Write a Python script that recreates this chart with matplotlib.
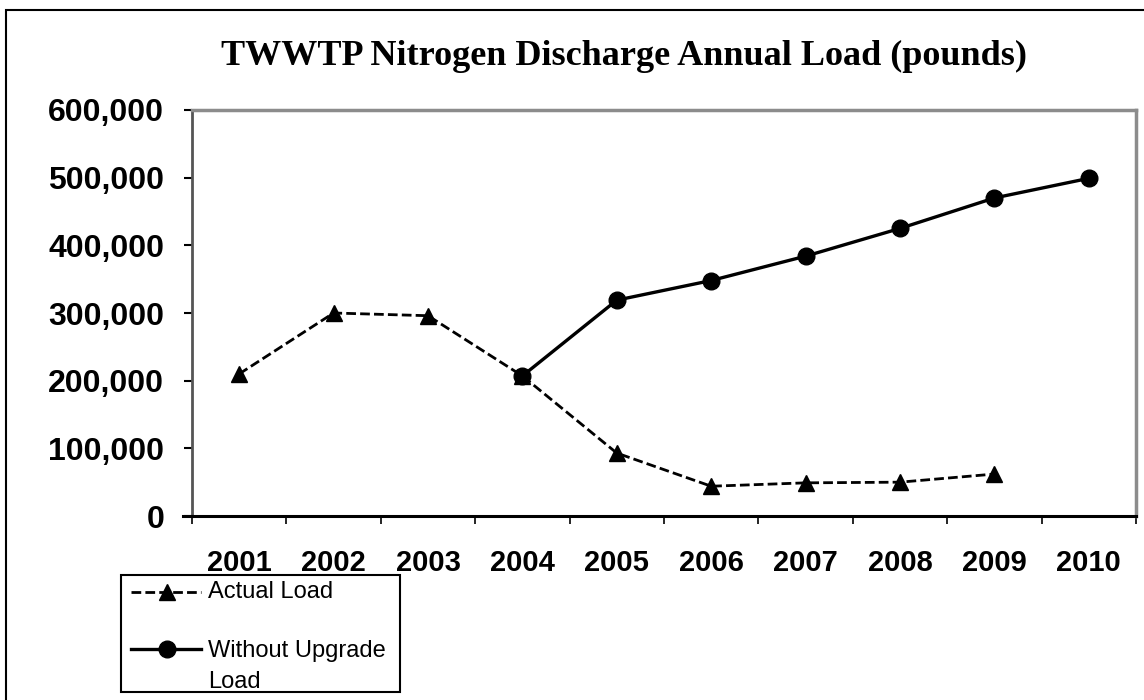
import matplotlib
matplotlib.use("Agg")
import matplotlib.pyplot as plt
import numpy as np
from matplotlib.lines import Line2D
from matplotlib.patches import Rectangle
from matplotlib.ticker import FuncFormatter

# donnees
years = ["2001", "2002", "2003", "2004", "2005", "2006", "2007", "2008", "2009", "2010"]
actual_load = [210000, 300000, 296000, 207000, 93000, 44000, 49000, 50000, 62000, np.nan]
without_upgrade = [np.nan, np.nan, np.nan, 207000, 319000, 348000, 384000, 425000, 470000, 499000]

W, H = 1144, 700
fig = plt.figure(figsize=(W / 100, H / 100), dpi=100)

def px(x, y):
    # pixels (origine en haut a gauche) -> fraction de figure
    return (x / W, 1 - y / H)

left, right, top, bottom = 192, 1136, 110, 516
ax = fig.add_axes([left / W, 1 - bottom / H, (right - left) / W, (bottom - top) / H])

X = np.arange(len(years)) + 0.5
lw_act = 2.0
lw_wo = 2.4
dash = (3.5, 1.5)
ms_tri = 12
ms_circ = 12

ax.plot(X, actual_load, color="black", linewidth=lw_act, linestyle=(0, dash),
        marker="^", markersize=ms_tri, clip_on=False)
ax.plot(X, without_upgrade, color="black", linewidth=lw_wo, linestyle="-",
        marker="o", markersize=ms_circ, clip_on=False)

ax.set_xlim(0, len(years))
ax.set_ylim(0, 600000)

# axe x : graduations entre les categories, etiquettes au centre
ax.set_xticks(np.arange(len(years) + 1))
ax.set_xticklabels([])
ax.set_xticks(X, minor=True)
ax.set_xticklabels(years, minor=True, fontsize=21, fontweight="bold",
                   fontfamily="Liberation Sans")
ax.tick_params(axis="x", which="major", direction="out", length=6, width=1.2, color="black")
ax.tick_params(axis="x", which="minor", length=0, pad=24)

ax.set_yticks(np.arange(0, 600001, 100000))
ax.yaxis.set_major_formatter(FuncFormatter(lambda v, p: f"{int(v):,}"))
ax.tick_params(axis="y", direction="out", length=6, width=1.5, color="black", pad=14)
for lab in ax.get_yticklabels():
    lab.set_fontsize(23)
    lab.set_fontweight("bold")
    lab.set_fontfamily("Liberation Sans")

ax.spines["bottom"].set_color("black")
ax.spines["bottom"].set_linewidth(2.2)
ax.spines["left"].set_color("#555555")
ax.spines["left"].set_linewidth(2)
ax.spines["top"].set_color("#8c8c8c")
ax.spines["top"].set_linewidth(2.5)
ax.spines["right"].set_color("#8c8c8c")
ax.spines["right"].set_linewidth(2.5)

# petit depassement de l'axe x a gauche
ax.plot([-9 / (right - left), 0], [0, 0], transform=ax.transAxes, color="black",
        linewidth=2.2, clip_on=False)

# titre
fig.text(*px(624, 56), "TWWTP Nitrogen Discharge Annual Load (pounds)",
         ha="center", va="center", fontsize=26, fontweight="bold",
         fontfamily="Liberation Serif")

# cadre exterieur
fig.patches.append(Rectangle(px(6, 760), (W + 60) / W, 750 / H, transform=fig.transFigure,
                             fill=False, edgecolor="black", linewidth=1.5))

# legende faite a la main
x0, y0 = px(121, 692)
x1, y1 = px(400, 575)
fig.patches.append(Rectangle((x0, y0), x1 - x0, y1 - y0, transform=fig.transFigure,
                             facecolor="white", edgecolor="black", linewidth=1.5, zorder=5))
tf = fig.transFigure
for yy, ls, lw, mk, ms in [(592, (0, dash), lw_act, "^", ms_tri), (649, "-", lw_wo, "o", ms_circ)]:
    a, b = px(131, yy)
    c, _ = px(201, yy)
    fig.lines.append(Line2D([a, c], [b, b], transform=tf, color="black",
                            linewidth=lw, linestyle=ls, zorder=6))
    m, _ = px(167, yy)
    fig.lines.append(Line2D([m], [b], transform=tf, color="black", marker=mk,
                            markersize=ms, linestyle="none", zorder=6))

leg_font = dict(fontsize=17, fontfamily="Liberation Sans", ha="left", va="baseline", zorder=7)
fig.text(*px(208, 598), "Actual Load", **leg_font)
fig.text(*px(208, 657), "Without Upgrade", **leg_font)
fig.text(*px(208, 688), "Load", **leg_font)

fig.savefig("out.png", dpi=100)
